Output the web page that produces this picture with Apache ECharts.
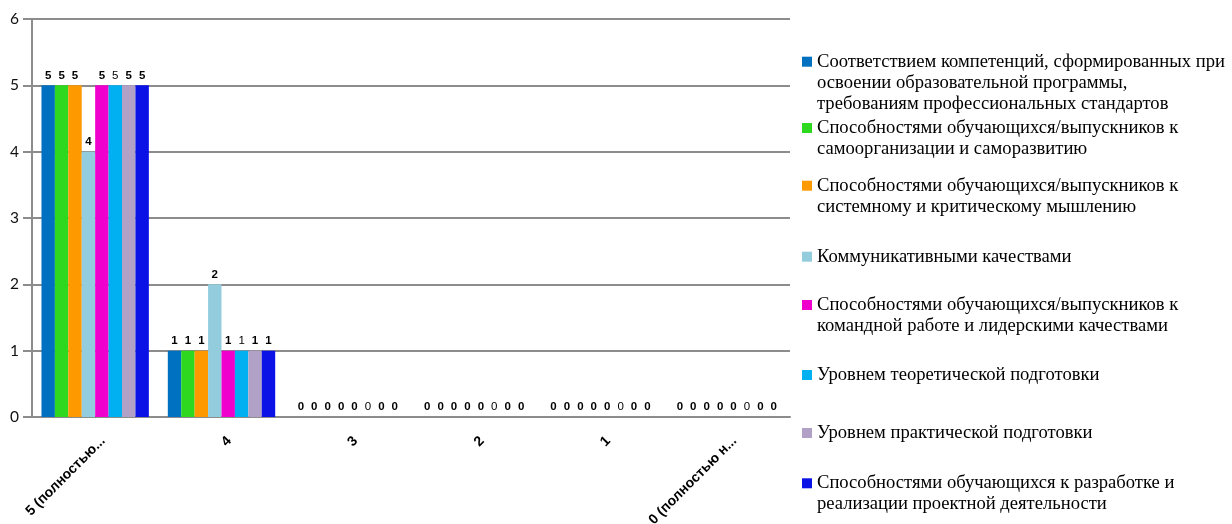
<!DOCTYPE html>
<html><head><meta charset="utf-8">
<script src="https://cdn.jsdelivr.net/npm/echarts@6/dist/echarts.min.js"></script>
<style>html,body{margin:0;padding:0;background:#fff}#c{width:1232px;height:524px}</style>
</head><body><div id="c"></div>
<script>
const categories = ['5 (полностью согласен)', '4', '3', '2', '1', '0 (полностью не согласен)'];
const tickLabels = ['5 (полностью...', '4', '3', '2', '1', '0 (полностью н...'];
const seriesNames = [
  'Соответствием компетенций, сформированных при освоении образовательной программы, требованиям профессиональных стандартов',
  'Способностями обучающихся/выпускников к самоорганизации и саморазвитию',
  'Способностями обучающихся/выпускников к системному и критическому мышлению',
  'Коммуникативными качествами',
  'Способностями обучающихся/выпускников к командной работе и лидерскими качествами',
  'Уровнем теоретической подготовки',
  'Уровнем практической подготовки',
  'Способностями обучающихся к разработке и реализации проектной деятельности'
];
const legendLines = [
  ['Соответствием компетенций, сформированных при', 'освоении образовательной программы,', 'требованиям профессиональных стандартов'],
  ['Способностями обучающихся/выпускников к', 'самоорганизации и саморазвитию'],
  ['Способностями обучающихся/выпускников к', 'системному и критическому мышлению'],
  ['Коммуникативными качествами'],
  ['Способностями обучающихся/выпускников к', 'командной работе и лидерскими качествами'],
  ['Уровнем теоретической подготовки'],
  ['Уровнем практической подготовки'],
  ['Способностями обучающихся к разработке и', 'реализации проектной деятельности']
];
const values1 = [5, 1, 0, 0, 0, 0];
const values2 = [5, 1, 0, 0, 0, 0];
const values3 = [5, 1, 0, 0, 0, 0];
const values4 = [4, 2, 0, 0, 0, 0];
const values5 = [5, 1, 0, 0, 0, 0];
const values6 = [5, 1, 0, 0, 0, 0];
const values7 = [5, 1, 0, 0, 0, 0];
const values8 = [5, 1, 0, 0, 0, 0];
const allValues = [values1, values2, values3, values4, values5, values6, values7, values8];

// styles
const colors = ['#0070c0', '#2ed81e', '#ff9900', '#93cddd', '#f000cc', '#00b0f0', '#b2a1c7', '#0a12e6'];
const labelWeights = ['bold', 'bold', 'bold', 'bold', 'bold', 'normal', 'bold', 'bold'];
const legendIconCenterY = [61.7, 128, 185.7, 256.7, 305, 375, 433, 483.3];
const LH = 21;

const series = seriesNames.map((name, i) => ({
  name: name,
  type: 'bar',
  data: allValues[i],
  itemStyle: { color: colors[i] },
  barGap: '0%',
  barCategoryGap: '15%',
  label: {
    show: true, position: 'top', distance: 4,
    color: '#000', fontSize: 11.5, fontWeight: labelWeights[i],
    fontFamily: 'Liberation Sans'
  }
}));

const legends = seriesNames.map((name, i) => {
  const n = legendLines[i].length;
  return {
    data: [name],
    orient: 'vertical',
    left: 802,
    top: legendIconCenterY[i] - (2 * n - 1) * LH / 2,
    padding: 0,
    itemWidth: 10, itemHeight: 10,
    icon: 'rect',
    selectedMode: false,
    formatter: function () {
      return '\n'.repeat(n - 1) + legendLines[i].join('\n');
    },
    textStyle: { fontFamily: 'Liberation Serif', fontSize: 18.6, color: '#000', lineHeight: LH }
  };
});

const chart = echarts.init(document.getElementById('c'), null, { renderer: 'canvas' });
chart.setOption({
  animation: false,
  backgroundColor: '#fff',
  grid: { left: 32, right: 442, top: 19, bottom: 107, containLabel: false, outerBoundsMode: 'none' },
  legend: legends,
  xAxis: {
    type: 'category', data: categories,
    axisLine: { show: true, lineStyle: { color: '#8c8c8c', width: 2 } },
    axisTick: { show: false },
    axisLabel: {
      interval: 0, rotate: 45, margin: 14,
      verticalAlign: 'top', padding: [4, 0, 0, 0],
      fontFamily: 'Liberation Sans', fontWeight: 'bold', fontSize: 14, color: '#000',
      formatter: function (v, idx) { return tickLabels[idx]; }
    }
  },
  yAxis: {
    type: 'value', min: 0, max: 6, interval: 1,
    axisLine: { show: true, lineStyle: { color: '#8c8c8c', width: 2 } },
    axisTick: { show: true, length: 9, lineStyle: { color: '#8c8c8c', width: 2 } },
    splitLine: { show: true, lineStyle: { color: '#8c8c8c', width: 2 } },
    axisLabel: { margin: 13, fontFamily: 'Lato', fontSize: 15.5, color: '#111' }
  },
  series: series
});
</script>
</body></html>
